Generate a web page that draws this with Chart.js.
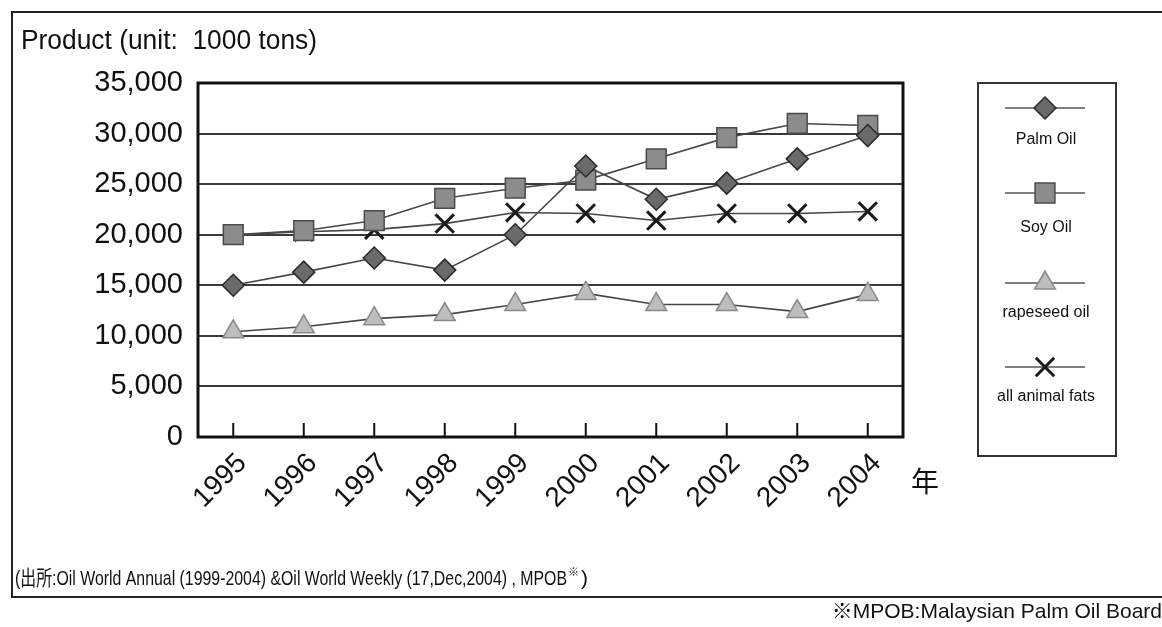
<!DOCTYPE html>
<html>
<head>
<meta charset="utf-8">
<script src="https://cdn.jsdelivr.net/npm/chart.js@4/dist/chart.umd.min.js"></script>
<style>
  html, body { margin: 0; padding: 0; background: #fff; }
  #wrap { width: 1162px; height: 627px; position: relative; }
</style>
</head>
<body>
<div id="wrap"><canvas id="c" width="1162" height="627"></canvas></div>
<script>
// Production of major oils and fats (unit: 1000 tons)
const years = ['1995', '1996', '1997', '1998', '1999', '2000', '2001', '2002', '2003', '2004'];
const palmOil     = [15000, 16300, 17700, 16500, 20000, 26800, 23500, 25100, 27500, 29800];
const soyOil      = [20000, 20400, 21400, 23600, 24600, 25400, 27500, 29600, 31000, 30800];
const rapeseedOil = [10400, 10900, 11700, 12100, 13100, 14200, 13100, 13100, 12400, 14100];
const animalFats  = [20000, 20300, 20500, 21100, 22200, 22100, 21400, 22100, 22100, 22300];
const seriesNames = ['Palm Oil', 'Soy Oil', 'rapeseed oil', 'all animal fats'];
const yMin = 0, yMax = 35000, yStep = 5000;

const FONT = "'Liberation Sans', Arial, Helvetica, 'Noto Sans CJK JP', sans-serif";
const CJK = "'Noto Sans CJK JP', 'Liberation Sans', sans-serif";

// Frame, captions, inner tick marks, plot border and the stacked legend
const decorations = {
  id: 'decorations',
  afterDraw(chart) {
    const ctx = chart.ctx;
    const area = chart.chartArea;
    const xs = chart.scales.x;
    ctx.save();

    // outer frame (runs off the right edge)
    ctx.strokeStyle = '#222';
    ctx.lineWidth = 2;
    ctx.beginPath();
    ctx.moveTo(1170, 12); ctx.lineTo(12, 12); ctx.lineTo(12, 597); ctx.lineTo(1170, 597);
    ctx.stroke();

    // plot border
    ctx.lineWidth = 3;
    ctx.strokeStyle = '#111';
    ctx.strokeRect(area.left, area.top, area.right - area.left, area.bottom - area.top);

    // tick marks pointing up into the plot
    ctx.lineWidth = 2;
    ctx.beginPath();
    years.forEach((y, i) => {
      const px = xs.getPixelForValue(i);
      ctx.moveTo(px, area.bottom);
      ctx.lineTo(px, area.bottom - 14);
    });
    ctx.stroke();

    // captions
    ctx.fillStyle = '#111';
    ctx.textBaseline = 'middle';
    ctx.textAlign = 'left';
    ctx.font = '27px ' + FONT;
    ctx.fillText('Product (unit:  1000 tons)', 21, 42, 296);

    ctx.font = '28px ' + CJK;
    ctx.textAlign = 'center';
    ctx.fillText('年', 925, 481);

    ctx.textAlign = 'left';
    ctx.font = '21px ' + FONT;
    ctx.fillText('(出所:Oil World Annual (1999-2004) &Oil World Weekly (17,Dec,2004) , MPOB', 15, 579, 552);
    ctx.font = '11px ' + CJK;
    ctx.fillText('※', 568, 572);
    ctx.font = '21px ' + FONT;
    ctx.fillText(')', 581, 579);

    ctx.textAlign = 'right';
    ctx.font = '21px ' + FONT;
    ctx.fillText('※MPOB:Malaysian Palm Oil Board', 1162, 612, 394);

    // legend box
    ctx.lineWidth = 2;
    ctx.strokeStyle = '#333';
    ctx.strokeRect(978, 83, 138, 373);

    const markerY = [108, 193, 283, 367];
    const labelY = [140, 228, 313, 397];
    chart.data.datasets.forEach((ds, i) => {
      const y = markerY[i];
      ctx.strokeStyle = '#555';
      ctx.lineWidth = 1.5;
      ctx.beginPath();
      ctx.moveTo(1005, y); ctx.lineTo(1085, y);
      ctx.stroke();
      ctx.fillStyle = ds.pointBackgroundColor;
      ctx.strokeStyle = ds.pointBorderColor;
      ctx.lineWidth = ds.pointBorderWidth;
      Chart.helpers.drawPoint(ctx, {
        pointStyle: ds.pointStyle,
        radius: ds.pointRadius,
        rotation: 0,
        borderWidth: ds.pointBorderWidth
      }, 1045, y);
      ctx.fillStyle = '#111';
      ctx.textAlign = 'center';
      ctx.font = '16px ' + FONT;
      ctx.fillText(ds.label, 1046, labelY[i], ds.label.length > 10 ? 112 : 64);
    });

    ctx.restore();
  }
};

const lineStyle = { borderColor: '#474747', borderWidth: 1.6, tension: 0, fill: false };

new Chart(document.getElementById('c'), {
  type: 'line',
  data: {
    labels: years,
    datasets: [
      { ...lineStyle, label: seriesNames[0], data: palmOil,
        pointStyle: 'rectRot', pointRadius: 11, pointBackgroundColor: '#6a6a6a',
        pointBorderColor: '#2a2a2a', pointBorderWidth: 1.5 },
      { ...lineStyle, label: seriesNames[1], data: soyOil,
        pointStyle: 'rect', pointRadius: 14, pointBackgroundColor: '#8c8c8c',
        pointBorderColor: '#4a4a4a', pointBorderWidth: 1.5 },
      { ...lineStyle, label: seriesNames[2], data: rapeseedOil,
        pointStyle: 'triangle', pointRadius: 12, pointBackgroundColor: '#bdbdbd',
        pointBorderColor: '#8a8a8a', pointBorderWidth: 1.5 },
      { ...lineStyle, label: seriesNames[3], data: animalFats,
        pointStyle: 'crossRot', pointRadius: 13, pointBackgroundColor: '#1a1a1a',
        pointBorderColor: '#1a1a1a', pointBorderWidth: 3 }
    ]
  },
  options: {
    responsive: false,
    animation: false,
    events: [],
    layout: { padding: { left: 0, top: 83, right: 259, bottom: 0 } },
    plugins: { legend: { display: false }, tooltip: { enabled: false } },
    scales: {
      x: {
        offset: true,
        grid: { display: false },
        border: { display: false },
        ticks: {
          color: '#111',
          font: { family: FONT, size: 28 },
          minRotation: 45, maxRotation: 45,
          padding: 2,
          labelOffset: 9
        },
        afterFit(scale) { scale.height = 190; }
      },
      y: {
        min: yMin, max: yMax,
        grid: { color: '#3a3a3a', lineWidth: 2, drawTicks: false },
        border: { display: false },
        ticks: {
          stepSize: yStep,
          color: '#111',
          font: { family: FONT, size: 29 },
          padding: 15,
          callback: v => v.toLocaleString('en-US')
        },
        afterFit(scale) { scale.width = 198; }
      }
    }
  },
  plugins: [decorations]
});
</script>
</body>
</html>
